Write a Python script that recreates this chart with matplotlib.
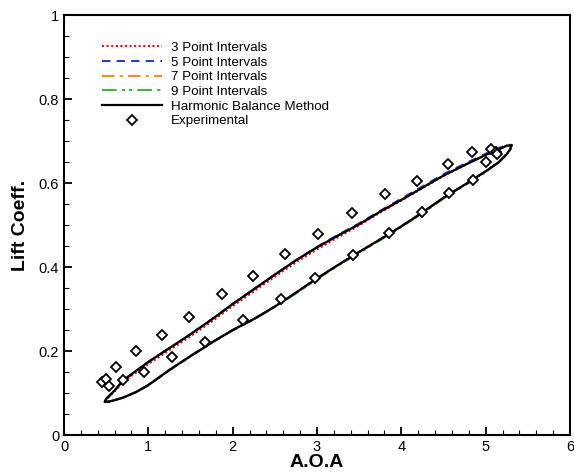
import matplotlib
matplotlib.use("Agg")
import matplotlib.pyplot as plt
from matplotlib.ticker import MultipleLocator

plt.rcParams['font.family'] = ['Liberation Sans', 'DejaVu Sans']

# Computed loop (closed): upper branch from lower-left tip to upper-right tip, then lower branch back
aoa_loop = [0.486, 0.50, 0.55, 0.60, 0.70, 0.85, 1.00, 1.25, 1.50, 1.75, 2.00, 2.25, 2.50,
            2.75, 3.00, 3.25, 3.50, 3.75, 4.00, 4.25, 4.50, 4.75, 5.00, 5.15, 5.25, 5.309,
            5.29, 5.25, 5.15, 5.00, 4.75, 4.50, 4.25, 4.00, 3.75, 3.50, 3.25, 3.00, 2.75,
            2.50, 2.25, 2.00, 1.75, 1.50, 1.25, 1.00, 0.85, 0.70, 0.60, 0.52, 0.486]
cl_hbm = [0.080, 0.086, 0.096, 0.106, 0.130, 0.152, 0.174, 0.207, 0.240, 0.275, 0.312, 0.347, 0.382,
          0.416, 0.447, 0.475, 0.502, 0.532, 0.560, 0.589, 0.618, 0.643, 0.667, 0.680, 0.689, 0.690,
          0.680, 0.669, 0.649, 0.628, 0.596, 0.565, 0.530, 0.497, 0.466, 0.436, 0.405, 0.373, 0.339,
          0.306, 0.276, 0.250, 0.220, 0.188, 0.155, 0.119, 0.102, 0.089, 0.083, 0.079, 0.080]
cl_3pt = [0.080, 0.085, 0.094, 0.104, 0.126, 0.148, 0.169, 0.202, 0.235, 0.270, 0.307, 0.342, 0.377,
          0.411, 0.442, 0.471, 0.499, 0.530, 0.558, 0.588, 0.617, 0.642, 0.667, 0.680, 0.689, 0.690,
          0.680, 0.669, 0.649, 0.628, 0.596, 0.565, 0.530, 0.497, 0.466, 0.436, 0.405, 0.373, 0.339,
          0.306, 0.276, 0.250, 0.220, 0.188, 0.155, 0.119, 0.102, 0.089, 0.083, 0.079, 0.080]
cl_5pt = [0.080, 0.086, 0.096, 0.106, 0.130, 0.152, 0.174, 0.207, 0.240, 0.275, 0.312, 0.347, 0.382,
          0.416, 0.448, 0.477, 0.504, 0.534, 0.563, 0.592, 0.621, 0.646, 0.670, 0.683, 0.691, 0.691,
          0.680, 0.669, 0.649, 0.628, 0.596, 0.565, 0.530, 0.497, 0.466, 0.436, 0.405, 0.373, 0.339,
          0.306, 0.276, 0.250, 0.220, 0.188, 0.155, 0.119, 0.102, 0.089, 0.083, 0.079, 0.080]
cl_7pt = cl_hbm
cl_9pt = [0.080, 0.086, 0.096, 0.106, 0.130, 0.152, 0.174, 0.207, 0.240, 0.275, 0.312, 0.347, 0.382,
          0.416, 0.447, 0.475, 0.502, 0.532, 0.560, 0.589, 0.618, 0.643, 0.667, 0.680, 0.689, 0.690,
          0.679, 0.668, 0.648, 0.626, 0.594, 0.563, 0.528, 0.495, 0.464, 0.434, 0.403, 0.371, 0.337,
          0.304, 0.275, 0.249, 0.219, 0.187, 0.154, 0.118, 0.101, 0.089, 0.083, 0.079, 0.080]

# Experimental data
aoa_exp = [0.447, 0.494, 0.534, 0.613, 0.696, 0.85, 0.952, 1.162, 1.281, 1.478, 1.676, 1.874,
           2.127, 2.245, 2.573, 2.621, 2.976, 3.016, 3.431, 3.411, 3.854, 3.806, 4.241, 4.182,
           4.557, 4.569, 4.834, 4.853, 5.004, 5.059, 5.12, 5.13]
cl_exp = [0.127, 0.133, 0.117, 0.161, 0.130, 0.199, 0.150, 0.238, 0.185, 0.282, 0.222, 0.337,
          0.273, 0.379, 0.324, 0.432, 0.374, 0.479, 0.428, 0.529, 0.481, 0.575, 0.531, 0.606,
          0.646, 0.577, 0.674, 0.607, 0.651, 0.682, 0.675, 0.670]

fig = plt.figure(figsize=(5.74, 4.73), dpi=100)
ax = fig.add_axes([0.1115, 0.0803, 0.8815, 0.8877])

l3, = ax.plot(aoa_loop, cl_3pt, color='#e8101a', lw=1.5, ls=(0, (1, 1.2)), label='3 Point Intervals', zorder=2)
l5, = ax.plot(aoa_loop, cl_5pt, color='#2a3fb8', lw=1.5, ls=(0, (4, 3)), label='5 Point Intervals', zorder=2)
l7, = ax.plot(aoa_loop, cl_7pt, color='#ff8c28', lw=1.5, ls=(0, (6, 2.5, 1.5, 2.5)), label='7 Point Intervals', zorder=1)
l9, = ax.plot(aoa_loop, cl_9pt, color='#3cb43c', lw=1.5, ls=(0, (7, 2.5, 1.5, 2, 1.5, 2.5)), label='9 Point Intervals', zorder=1)
lh, = ax.plot(aoa_loop, cl_hbm, color='black', lw=1.6, ls='-', label='Harmonic Balance Method', zorder=3)
le, = ax.plot(aoa_exp, cl_exp, ls='none', marker='D', ms=5, mfc='white', mec='black', mew=1.3,
              label='Experimental', zorder=4)

handles = [l3, l5, l7, l9, lh, le]
labels = [h.get_label() for h in handles]
leg = ax.legend(handles, labels, loc='upper left', bbox_to_anchor=(0.064, 0.95),
                frameon=False, fontsize=9.6, handlelength=4.5, handletextpad=0.72, labelspacing=0.18,
                borderaxespad=0)

ax.set_xlim(0, 6)
ax.set_ylim(0, 1)
ax.xaxis.set_major_locator(MultipleLocator(1))
ax.xaxis.set_minor_locator(MultipleLocator(0.2))
ax.yaxis.set_major_locator(MultipleLocator(0.2))
ax.yaxis.set_minor_locator(MultipleLocator(0.05))
ax.xaxis.set_major_formatter(plt.FuncFormatter(lambda v, p: f'{v:g}'))
ax.yaxis.set_major_formatter(plt.FuncFormatter(lambda v, p: f'{v:g}'))
ax.tick_params(which='both', direction='in', top=False, right=False, labelsize=10.5, colors='black')
ax.tick_params(which='major', length=6, width=1.3)
ax.tick_params(which='minor', length=3.5, width=0.8)
for s in ax.spines.values():
    s.set_linewidth(1.5)

ax.set_xlabel('A.O.A', fontsize=14, fontweight='bold', labelpad=0)
ax.set_ylabel('Lift Coeff.', fontsize=14, fontweight='bold', labelpad=7)

fig.savefig('out.png', dpi=100)
